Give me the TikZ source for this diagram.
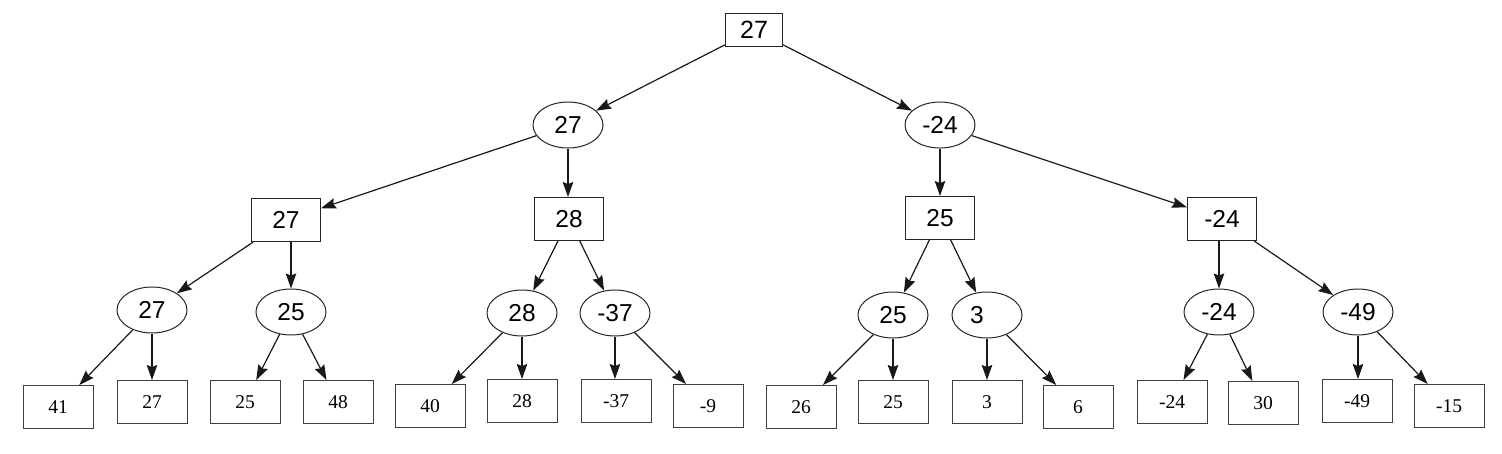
\documentclass[tikz,border=0pt]{standalone}
\usepackage{fontspec}
\setmainfont{Liberation Serif}
\setsansfont{Liberation Sans}
\usetikzlibrary{shapes.geometric,arrows.meta}
\begin{document}
\begin{tikzpicture}[x=1pt,y=-1pt,
  inbox/.style={draw=black!85,line width=1pt,minimum width=57pt,minimum height=33pt,inner sep=0pt,font=\sffamily\fontsize{25}{25}\selectfont},
  midbox/.style={draw=black!85,line width=1pt,minimum width=69pt,minimum height=43pt,inner sep=0pt,font=\sffamily\fontsize{24.5}{25}\selectfont},
  ell/.style={draw=black!85,line width=1pt,ellipse,minimum width=70pt,minimum height=46pt,inner sep=0pt,font=\sffamily\fontsize{24.5}{25}\selectfont},
  leaf/.style={draw=black!75,line width=1pt,minimum width=70pt,minimum height=43pt,inner sep=0pt,font=\fontsize{19.5}{20}\selectfont},
  edge/.style={draw=black!90,line width=1.2pt,-{Stealth[length=15pt,width=10.5pt,inset=2pt]}}
]
\useasboundingbox (0,0) rectangle (1502,453);
% level 0
\node[inbox] (r) at (754,30) {27};
% level 1
\node[ell] (a) at (568,125) {27};
\node[ell] (b) at (940,125) {-24};
% level 2
\node[midbox] (aa) at (286,220) {27};
\node[midbox] (ab) at (569,219) {28};
\node[midbox] (ba) at (940,218) {25};
\node[midbox] (bb) at (1222,219) {-24};
% level 3
\node[ell] (aaa) at (152,310) {27};
\node[ell] (aab) at (291,312) {25};
\node[ell] (aba) at (522,313) {28};
\node[ell] (abb) at (615,313) {-37};
\node[ell] (baa) at (893,315) {25};
\node[ell] (bab) at (987,315) {3\rule{20pt}{0pt}};
\node[ell] (bba) at (1219,312) {-24};
\node[ell] (bbb) at (1358,312) {-49};
% leaves
\node[leaf] (l1) at (58,407) {41};
\node[leaf] (l2) at (152,402) {27};
\node[leaf] (l3) at (245,402) {25};
\node[leaf] (l4) at (338,402) {48};
\node[leaf] (l5) at (430,406) {40};
\node[leaf] (l6) at (522,401) {28};
\node[leaf] (l7) at (616,401) {-37};
\node[leaf] (l8) at (708,406) {-9};
\node[leaf] (l9) at (801,407) {26};
\node[leaf] (l10) at (893,402) {25};
\node[leaf] (l11) at (987,402) {3};
\node[leaf] (l12) at (1078,407) {6};
\node[leaf] (l13) at (1172,402) {-24};
\node[leaf] (l14) at (1263,403) {30};
\node[leaf] (l15) at (1357,401) {-49};
\node[leaf] (l16) at (1449,406) {-15};
% edges
\draw[edge] (r) -- (a);
\draw[edge] (r) -- (b);
\draw[edge] (a) -- (aa);
\draw[edge] (a.south) -- (ab.north -| a.south);
\draw[edge] (b.south) -- (ba.north -| b.south);
\draw[edge] (b) -- (bb);
\draw[edge] (aa) -- (aaa);
\draw[edge] (aa.south -| aab.north) -- (aab.north);
\draw[edge] (ab) -- (aba);
\draw[edge] (ab) -- (abb);
\draw[edge] (ba) -- (baa);
\draw[edge] (ba) -- (bab);
\draw[edge] (bb.south -| bba.north) -- (bba.north);
\draw[edge] (bb) -- (bbb);
\draw[edge] (aaa) -- (l1);
\draw[edge] (aaa.south) -- (l2.north -| aaa.south);
\draw[edge] (aab) -- (l3);
\draw[edge] (aab) -- (l4);
\draw[edge] (aba) -- (l5);
\draw[edge] (aba.south) -- (l6.north -| aba.south);
\draw[edge] (abb.south) -- (l7.north -| abb.south);
\draw[edge] (abb) -- (l8);
\draw[edge] (baa) -- (l9);
\draw[edge] (baa.south) -- (l10.north -| baa.south);
\draw[edge] (bab.south) -- (l11.north -| bab.south);
\draw[edge] (bab) -- (l12);
\draw[edge] (bba) -- (l13);
\draw[edge] (bba) -- (l14);
\draw[edge] (bbb.south) -- (l15.north -| bbb.south);
\draw[edge] (bbb) -- (l16);
\end{tikzpicture}
\end{document}
